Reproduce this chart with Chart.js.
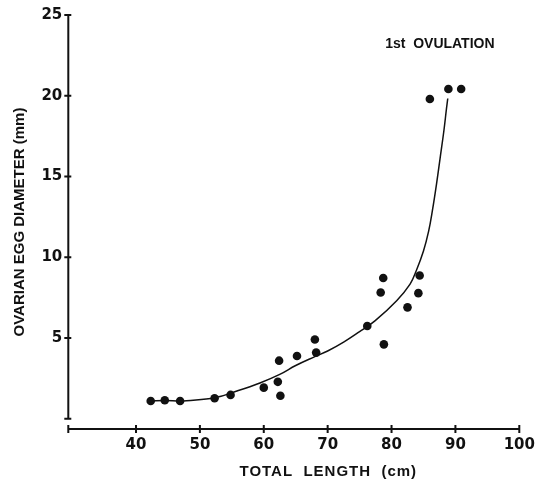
<!DOCTYPE html>
<html>
<head>
<meta charset="utf-8">
<script src="https://cdn.jsdelivr.net/npm/chart.js@4/dist/chart.umd.min.js"></script>
<style>
  body { margin: 0; background: #fff; }
  #wrap { width: 545px; height: 482px; }
</style>
</head>
<body>
<div id="wrap"><canvas id="myChart" width="545" height="482"></canvas></div>
<script>
//Fish data (total length cm / ovarian egg diameter mm)
const lengths = [42.3, 44.5, 46.9, 52.3, 54.8, 60.0, 62.2, 62.4, 62.6, 65.2, 68.0, 68.2, 76.2, 78.3, 78.7, 78.8, 82.5, 84.2, 84.4, 86.0, 88.9, 90.9];
const diameters = [1.1, 1.15, 1.1, 1.27, 1.48, 1.93, 2.29, 3.6, 1.43, 3.89, 4.91, 4.1, 5.75, 7.82, 8.72, 4.61, 6.9, 7.78, 8.87, 19.8, 20.42, 20.42];

//Hand drawn curve
const curveX = [42.3, 44.5, 46.9, 47.9, 52.3, 55.8, 59.4, 62.5, 65.0, 68.0, 70.0, 72.5, 75.0, 77.4, 80.8, 82.9, 83.9, 85.0, 85.8, 86.4, 87.1, 87.6, 88.2, 88.6, 88.8];
const curveY = [1.1, 1.13, 1.1, 1.12, 1.3, 1.72, 2.22, 2.75, 3.3, 3.85, 4.2, 4.75, 5.4, 6.06, 7.31, 8.34, 9.2, 10.39, 11.6, 12.9, 14.7, 16.13, 17.85, 19.2, 19.83];

//Axis ticks
const xTicks = [40, 50, 60, 70, 80, 90, 100];
const yTicks = [5, 10, 15, 20, 25];

const ink = "#111";
const tickFont = { family: "DejaVu Sans", size: 15, weight: "bold" };

const points = lengths.map((v, i) => ({ x: v, y: diameters[i] }));
const curve = curveX.map((v, i) => ({ x: v, y: curveY[i] }));

//Axis lines drawn apart, like the original (y axis stops at 0, x axis sits below)
const axisLines = {
  id: "axisLines",
  afterDraw(chart) {
    const { ctx, scales: { x, y } } = chart;
    const left = x.getPixelForValue(x.min);
    const right = x.getPixelForValue(100);
    const bottom = y.getPixelForValue(y.min);
    const y0 = y.getPixelForValue(0);
    const yTop = y.getPixelForValue(25);

    ctx.save();
    ctx.strokeStyle = ink;
    ctx.lineWidth = 2;
    ctx.beginPath();
    ctx.moveTo(left, yTop);
    ctx.lineTo(left, y0);
    [0].concat(yTicks).forEach((v) => {
      const py = y.getPixelForValue(v);
      ctx.moveTo(left - 4, py);
      ctx.lineTo(left + 3, py);
    });
    ctx.moveTo(left, bottom);
    ctx.lineTo(right, bottom);
    [x.min].concat(xTicks).forEach((v) => {
      const px = x.getPixelForValue(v);
      ctx.moveTo(px, bottom - 4);
      ctx.lineTo(px, bottom + 4);
    });
    ctx.stroke();

    ctx.fillStyle = ink;
    ctx.font = "bold 14px 'Liberation Sans'";
    ctx.textBaseline = "middle";
    ctx.textAlign = "left";
    ctx.fillText("1st  OVULATION", x.getPixelForValue(79.0), y.getPixelForValue(23.2));

    ctx.font = "bold 15px 'Liberation Sans'";
    ctx.textAlign = "center";
    ctx.letterSpacing = "1px";
    ctx.fillText("TOTAL  LENGTH  (cm)", x.getPixelForValue(70.1), 472);
    ctx.restore();
  },
};

var ctx = document.getElementById("myChart").getContext("2d");
var chart = new Chart(ctx, {
  type: "scatter",
  data: {
    datasets: [
      {
        label: "fish",
        data: points,
        pointRadius: 4.3,
        pointBackgroundColor: ink,
        pointBorderWidth: 0,
      },
      {
        label: "curve",
        data: curve,
        showLine: true,
        pointRadius: 0,
        borderColor: ink,
        borderWidth: 1.5,
        tension: 0.4,
        fill: false,
      },
    ],
  },
  options: {
    responsive: false,
    animation: false,
    layout: { padding: { top: 12.7, right: 25.7, left: 0, bottom: 0 } },
    plugins: { legend: { display: false }, tooltip: { enabled: false } },
    scales: {
      x: {
        type: "linear",
        min: 29.4,
        max: 100,
        grid: { display: false, drawTicks: false },
        border: { display: false },
        ticks: { padding: 7, color: ink, font: tickFont },
        afterBuildTicks: (s) => { s.ticks = xTicks.map((v) => ({ value: v })); },
        afterFit: (s) => { s.height = 53; },
      },
      y: {
        type: "linear",
        min: -0.63,
        max: 25,
        grid: { display: false, drawTicks: false },
        border: { display: false },
        ticks: { padding: 6, color: ink, font: tickFont },
        afterBuildTicks: (s) => { s.ticks = yTicks.map((v) => ({ value: v })); },
        afterFit: (s) => { s.width = 68.3; },
        title: {
          display: true,
          text: "OVARIAN EGG DIAMETER (mm)",
          color: ink,
          font: { family: "Liberation Sans", size: 15, weight: "bold" },
          padding: { top: 11, bottom: 0 },
        },
      },
    },
  },
  plugins: [axisLines],
});
</script>
</body>
</html>
